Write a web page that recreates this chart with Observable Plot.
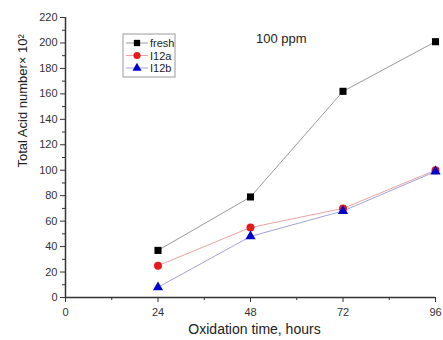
<!DOCTYPE html>
<html><head><meta charset="utf-8">
<script src="https://cdn.jsdelivr.net/npm/d3@7"></script>
<script src="https://cdn.jsdelivr.net/npm/@observablehq/plot@0.6"></script>
<style>body{margin:0;background:#fff;} svg{font-family:"Liberation Sans",Arial,sans-serif;}</style>
</head><body><div id="chart"></div>
<script>
const hours = [24, 48, 72, 96];
const fresh = [37, 79, 162, 201];
const i12a = [25, 55, 70, 100];
const i12b = [8, 48, 68, 99];
const seriesNames = ["fresh", "I12a", "I12b"];
const seriesValues = [fresh, i12a, i12b];
const markerColors = ["#000000", "#e41a1c", "#0000cc"];
const lineColors = ["#9a9a9a", "#e8a3a3", "#a3a3d6"];
const symbols = ["square", "circle", "triangle"];
const xTicks = [0, 24, 48, 72, 96];
const yTicks = [0, 20, 40, 60, 80, 100, 120, 140, 160, 180, 200, 220];
const annotation = [{x: 56, y: 203, text: "100 ppm"}];

const rows = [];
seriesNames.forEach((s, i) => hours.forEach((h, j) => rows.push({series: s, idx: i, h, v: seriesValues[i][j]})));

const marks = [
  Plot.axisX({ticks: xTicks, tickSize: 5, tickPadding: 6, fontSize: 11, label: null, color: "#333"}),
  Plot.axisX({ticks: [12, 36, 60, 84], tickSize: 3, tickFormat: () => "", label: null, color: "#333"}),
  Plot.axisY({ticks: yTicks, tickSize: 5, tickPadding: 3, fontSize: 11, label: null, color: "#333"}),
  Plot.axisY({ticks: d3.range(10, 220, 20), tickSize: 3, tickFormat: () => "", label: null, color: "#333"}),
  Plot.ruleX([0], {stroke: "#333", strokeWidth: 1.5}),
  Plot.ruleY([0], {stroke: "#333", strokeWidth: 1.5}),
];
seriesNames.forEach((s, i) => {
  const d = rows.filter(r => r.idx === i);
  marks.push(Plot.line(d, {x: "h", y: "v", stroke: lineColors[i], strokeWidth: 1}));
});
seriesNames.forEach((s, i) => {
  const d = rows.filter(r => r.idx === i);
  marks.push(Plot.dot(d, {x: "h", y: "v", symbol: symbols[i], fill: markerColors[i], stroke: "none", r: i === 2 ? 3.8 : 4}));
});
marks.push(Plot.text(annotation, {x: "x", y: "y", text: "text", fontSize: 13, fill: "#222"}));
marks.push(Plot.text(["Total Acid number\u00d7 10\u00b2"], {frameAnchor: "left", rotate: -90, dx: -43, dy: 10, fontSize: 13, fill: "#222"}));
marks.push(Plot.text(["Oxidation time, hours"], {frameAnchor: "bottom", dy: 36, dx: 4, fontSize: 14, fill: "#222"}));

const chart = Plot.plot({
  width: 443, height: 340,
  marginLeft: 65, marginRight: 8, marginTop: 17, marginBottom: 43,
  x: {domain: [0, 96]},
  y: {domain: [0, 220]},
  style: {fontFamily: "Liberation Sans, Arial, sans-serif", background: "#fff"},
  marks
});

// legend box
const svg = d3.select(chart);
const lg = svg.append("g").attr("transform", "translate(123,34)");
lg.append("rect").attr("width", 52).attr("height", 43).attr("fill", "#fff").attr("stroke", "#999").attr("stroke-width", 1);
const symGen = {square: d3.symbolSquare, circle: d3.symbolCircle, triangle: d3.symbolTriangle};
seriesNames.forEach((s, i) => {
  const y = 9 + i * 12.5;
  const g = lg.append("g").attr("transform", `translate(0,${y})`);
  g.append("line").attr("x1", 3).attr("x2", 25).attr("stroke", lineColors[i]).attr("stroke-width", 1);
  g.append("path").attr("transform", "translate(14,0)").attr("d", d3.symbol(symGen[symbols[i]], i === 2 ? 36 : 40)()).attr("fill", markerColors[i]);
  g.append("text").attr("x", 27).attr("y", 4).attr("text-anchor", "start").attr("font-size", 11).attr("fill", "#222").text(s);
});

document.getElementById("chart").appendChild(chart);
</script>
</body></html>
